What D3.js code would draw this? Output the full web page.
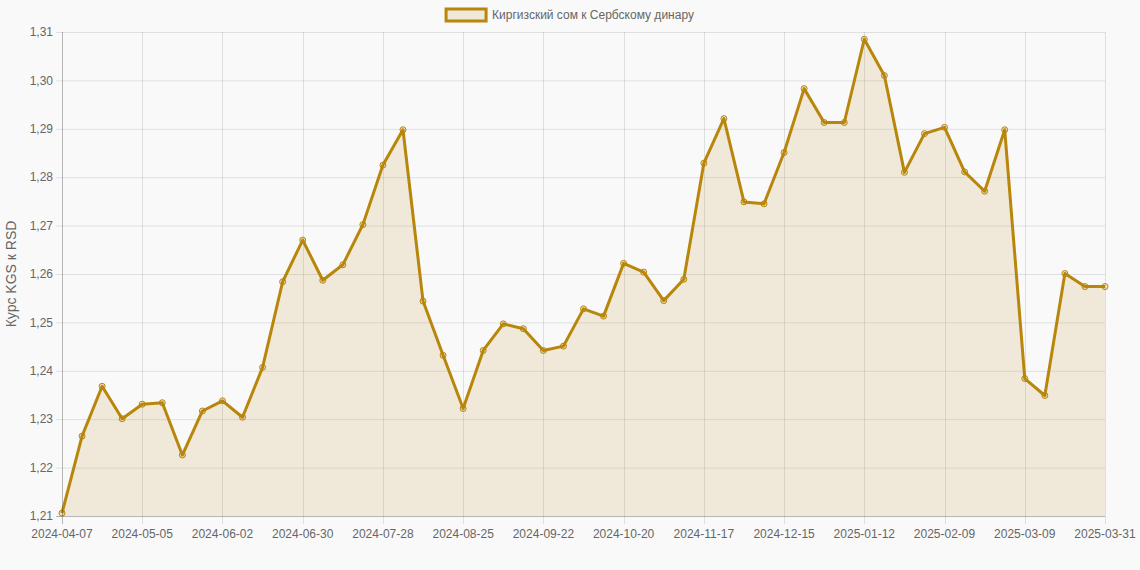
<!DOCTYPE html>
<html><head><meta charset="utf-8">
<script src="https://cdn.jsdelivr.net/npm/d3@7"></script>
<style>
html,body{margin:0;padding:0;background:#f9f9f9;}
svg{display:block;font-family:"Liberation Sans",Arial,Helvetica,sans-serif;}
</style></head><body>
<svg id="c" width="1140" height="570"></svg>
<script>
const seriesName = "Киргизский сом к Сербскому динару";
const yTitle = "Курс KGS к RSD";
const dates = ["2024-04-07","2024-04-14","2024-04-21","2024-04-28","2024-05-05","2024-05-12","2024-05-19","2024-05-26",
"2024-06-02","2024-06-09","2024-06-16","2024-06-23","2024-06-30","2024-07-07","2024-07-14","2024-07-21",
"2024-07-28","2024-08-04","2024-08-11","2024-08-18","2024-08-25","2024-09-01","2024-09-08","2024-09-15",
"2024-09-22","2024-09-29","2024-10-06","2024-10-13","2024-10-20","2024-10-27","2024-11-03","2024-11-10",
"2024-11-17","2024-11-24","2024-12-01","2024-12-08","2024-12-15","2024-12-22","2024-12-29","2025-01-05",
"2025-01-12","2025-01-19","2025-01-26","2025-02-02","2025-02-09","2025-02-16","2025-02-23","2025-03-02",
"2025-03-09","2025-03-16","2025-03-23","2025-03-30","2025-03-31"];
const values = [1.2106,1.2265,1.2368,1.2301,1.2331,1.2334,1.2226,1.2317,
1.2338,1.2304,1.2407,1.2584,1.2670,1.2587,1.2619,1.2702,
1.2825,1.2898,1.2544,1.2432,1.2322,1.2442,1.2497,1.2487,
1.2442,1.2451,1.2528,1.2513,1.2622,1.2604,1.2545,1.2589,
1.2829,1.2921,1.2749,1.2745,1.2851,1.2983,1.2913,1.2913,
1.3085,1.3010,1.2810,1.2890,1.2903,1.2811,1.2771,1.2898,
1.2384,1.2349,1.2601,1.2574,1.2574];
const yTicks = [1.21,1.22,1.23,1.24,1.25,1.26,1.27,1.28,1.29,1.30,1.31];
const xTickIdx = [0,4,8,12,16,20,24,28,32,36,40,44,48,52];

const svg = d3.select("#c");
const L=62, R=1105, T=32, B=516;
const color = "#b8860b";
const x = d3.scaleLinear().domain([0, dates.length-1]).range([L,R]);
const y = d3.scaleLinear().domain([1.21,1.31]).range([B,T]);
const fmt = v => d3.format(".2f")(v).replace(".", ",");

// grid
const g = svg.append("g");
g.selectAll(".hy").data(yTicks).join("line")
  .attr("x1",L-6).attr("x2",R).attr("y1",d=>y(d)+0.5).attr("y2",d=>y(d)+0.5)
  .attr("stroke","rgba(0,0,0,0.1)");
g.selectAll(".vx").data(xTickIdx).join("line")
  .attr("x1",d=>Math.round(x(d))+0.5).attr("x2",d=>Math.round(x(d))+0.5).attr("y1",T).attr("y2",B+8)
  .attr("stroke","rgba(0,0,0,0.1)");

// area & line
const area = d3.area().x((d,i)=>x(i)).y0(B).y1(d=>y(d));
svg.append("path").datum(values).attr("d",area).attr("fill","rgba(184,134,11,0.13)");
const line = d3.line().x((d,i)=>x(i)).y(d=>y(d));
svg.append("path").datum(values).attr("d",line).attr("fill","none")
  .attr("stroke",color).attr("stroke-width",3).attr("stroke-linejoin","round");
svg.selectAll(".pt").data(values).join("circle")
  .attr("cx",(d,i)=>x(i)).attr("cy",d=>y(d)).attr("r",3)
  .attr("fill","rgba(184,134,11,0.2)").attr("stroke",color).attr("stroke-width",1);

// axes lines
svg.append("line").attr("x1",L+0.5).attr("x2",L+0.5).attr("y1",T).attr("y2",B+8).attr("stroke","rgba(0,0,0,0.18)");
svg.append("line").attr("x1",L-6).attr("x2",R).attr("y1",B+0.5).attr("y2",B+0.5).attr("stroke","rgba(0,0,0,0.18)");

// tick labels
svg.selectAll(".yl").data(yTicks).join("text")
  .attr("x",L-9).attr("y",d=>y(d)).attr("dy","0.35em").attr("text-anchor","end")
  .attr("font-size",12).attr("fill","#666").text(fmt);
svg.selectAll(".xl").data(xTickIdx).join("text")
  .attr("x",d=>x(d)).attr("y",B+22).attr("text-anchor","middle")
  .attr("font-size",12).attr("fill","#666").text(d=>dates[d]);

// y title
svg.append("text").attr("transform",`translate(16,${(T+B)/2}) rotate(-90)`)
  .attr("text-anchor","middle").attr("font-size",14).attr("fill","#666").text(yTitle);

// legend
const lg = svg.append("g");
const txt = lg.append("text").attr("y",15).attr("dy","0.35em").attr("font-size",12).attr("fill","#666").text(seriesName);
const tw = txt.node().getComputedTextLength();
const total = 40 + 6 + tw;
const lx = 570 - total/2;
lg.append("rect").attr("x",lx).attr("y",9).attr("width",40).attr("height",12)
  .attr("fill","rgba(184,134,11,0.13)").attr("stroke",color).attr("stroke-width",3);
txt.attr("x",lx+46);
</script>
</body></html>
